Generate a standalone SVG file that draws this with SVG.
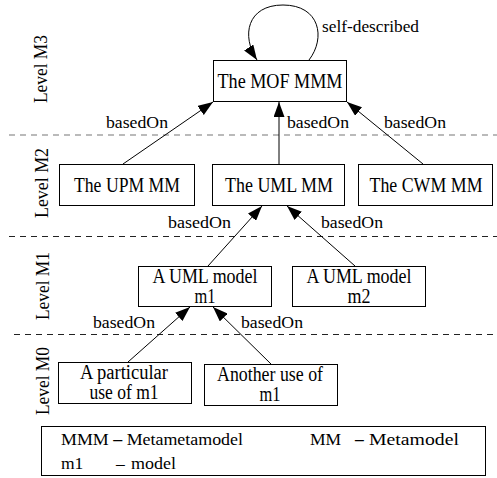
<svg xmlns="http://www.w3.org/2000/svg" width="497" height="478" viewBox="0 0 497 478">
<style>
.t,.l,.lv{font-family:Liberation Serif,Times New Roman,Tinos,DejaVu Serif,serif;fill:#000}
.t{font-size:20px;text-anchor:middle}
.l{font-size:17.5px}
.lv{font-size:18.5px;text-anchor:middle}
.box{fill:#fff;stroke:#000;stroke-width:1}
.sep{stroke-width:1.2;stroke-dasharray:6 5;fill:none}
.con{stroke:#000;stroke-width:1;fill:none;marker-end:url(#ah)}
</style>
<defs>
<marker id="ah" markerWidth="15" markerHeight="11" refX="15" refY="5.5" orient="auto" markerUnits="userSpaceOnUse"><path d="M0,0 L15,5.5 L0,11 z" fill="#000"/></marker>
</defs>
<rect width="497" height="478" fill="#fff"/>
<g id="separators">
<line class="sep" x1="9" y1="135" x2="497" y2="135" stroke="#777"/>
<line class="sep" x1="9" y1="236.5" x2="497" y2="236.5" stroke="#222"/>
<line class="sep" x1="14" y1="334.5" x2="497" y2="334.5" stroke="#222"/>
</g>
<g id="levels">
<text class="lv" transform="translate(47,69) rotate(-90)" textLength="68" lengthAdjust="spacingAndGlyphs">Level M3</text>
<text class="lv" transform="translate(48,183) rotate(-90)" textLength="70" lengthAdjust="spacingAndGlyphs">Level M2</text>
<text class="lv" transform="translate(49,286) rotate(-90)" textLength="68" lengthAdjust="spacingAndGlyphs">Level M1</text>
<text class="lv" transform="translate(49,381) rotate(-90)" textLength="68" lengthAdjust="spacingAndGlyphs">Level M0</text>
</g>
<g id="connectors">
<path class="con" d="M309,60 C326,38 320,5 283,5 C247,5 241,36 257,60"/>
<line class="con" x1="123" y1="164" x2="213" y2="102"/>
<line class="con" x1="279" y1="164" x2="279" y2="102"/>
<line class="con" x1="423" y1="164" x2="347" y2="102"/>
<line class="con" x1="208" y1="266" x2="262" y2="206"/>
<line class="con" x1="355" y1="266" x2="287" y2="206"/>
<line class="con" x1="128" y1="362" x2="190" y2="307"/>
<line class="con" x1="271" y1="364" x2="213" y2="307"/>
<text class="l" x="322" y="32" textLength="97" lengthAdjust="spacingAndGlyphs">self-described</text>
<text class="l" x="106" y="128" textLength="62" lengthAdjust="spacingAndGlyphs">basedOn</text>
<text class="l" x="287" y="128" textLength="62" lengthAdjust="spacingAndGlyphs">basedOn</text>
<text class="l" x="384" y="128" textLength="62" lengthAdjust="spacingAndGlyphs">basedOn</text>
<text class="l" x="168" y="228" textLength="63" lengthAdjust="spacingAndGlyphs">basedOn</text>
<text class="l" x="321" y="228" textLength="62" lengthAdjust="spacingAndGlyphs">basedOn</text>
<text class="l" x="93" y="328" textLength="62" lengthAdjust="spacingAndGlyphs">basedOn</text>
<text class="l" x="241" y="328" textLength="62" lengthAdjust="spacingAndGlyphs">basedOn</text>
</g>
<g id="mof">
<rect class="box" x="213.5" y="60.5" width="133" height="41"/>
<text class="t" x="280" y="88" textLength="125" lengthAdjust="spacingAndGlyphs">The MOF MMM</text>
</g>
<g id="upm">
<rect class="box" x="59.5" y="164.5" width="135" height="41"/>
<text class="t" x="127" y="192" textLength="106" lengthAdjust="spacingAndGlyphs">The UPM MM</text>
</g>
<g id="uml">
<rect class="box" x="212.5" y="164.5" width="132" height="41"/>
<text class="t" x="279" y="192" textLength="108" lengthAdjust="spacingAndGlyphs">The UML MM</text>
</g>
<g id="cwm">
<rect class="box" x="358.5" y="164.5" width="134" height="41"/>
<text class="t" x="426" y="192" textLength="113" lengthAdjust="spacingAndGlyphs">The CWM MM</text>
</g>
<g id="m1">
<rect class="box" x="138.5" y="266.5" width="133" height="40"/>
<text class="t" x="205" y="283" textLength="105" lengthAdjust="spacingAndGlyphs">A UML model</text>
<text class="t" x="205" y="303" textLength="21" lengthAdjust="spacingAndGlyphs">m1</text>
</g>
<g id="m2">
<rect class="box" x="292.5" y="266.5" width="133" height="40"/>
<text class="t" x="359" y="283" textLength="105" lengthAdjust="spacingAndGlyphs">A UML model</text>
<text class="t" x="359" y="303" textLength="23" lengthAdjust="spacingAndGlyphs">m2</text>
</g>
<g id="particular">
<rect class="box" x="58.5" y="362.5" width="133" height="41"/>
<text class="t" x="124" y="379" textLength="88" lengthAdjust="spacingAndGlyphs">A particular</text>
<text class="t" x="124" y="399" textLength="69" lengthAdjust="spacingAndGlyphs">use of m1</text>
</g>
<g id="another">
<rect class="box" x="204.5" y="364.5" width="133" height="41"/>
<text class="t" x="270" y="381" textLength="106" lengthAdjust="spacingAndGlyphs">Another use of</text>
<text class="t" x="270" y="401" textLength="21" lengthAdjust="spacingAndGlyphs">m1</text>
</g>
<g id="legend">
<rect class="box" x="41.5" y="426.5" width="444" height="49"/>
<text class="l" x="61" y="445" textLength="182" lengthAdjust="spacingAndGlyphs">MMM <tspan font-weight="bold">–</tspan> Metametamodel</text>
<text class="l" y="445"><tspan x="310">MM</tspan><tspan x="355" font-weight="bold">–</tspan></text>
<text class="l" x="369" y="445" textLength="90" lengthAdjust="spacingAndGlyphs">Metamodel</text>
<text class="l" y="469"><tspan x="61">m1</tspan><tspan x="116">–</tspan></text>
<text class="l" x="131" y="469" textLength="45" lengthAdjust="spacingAndGlyphs">model</text>
</g>
</svg>
